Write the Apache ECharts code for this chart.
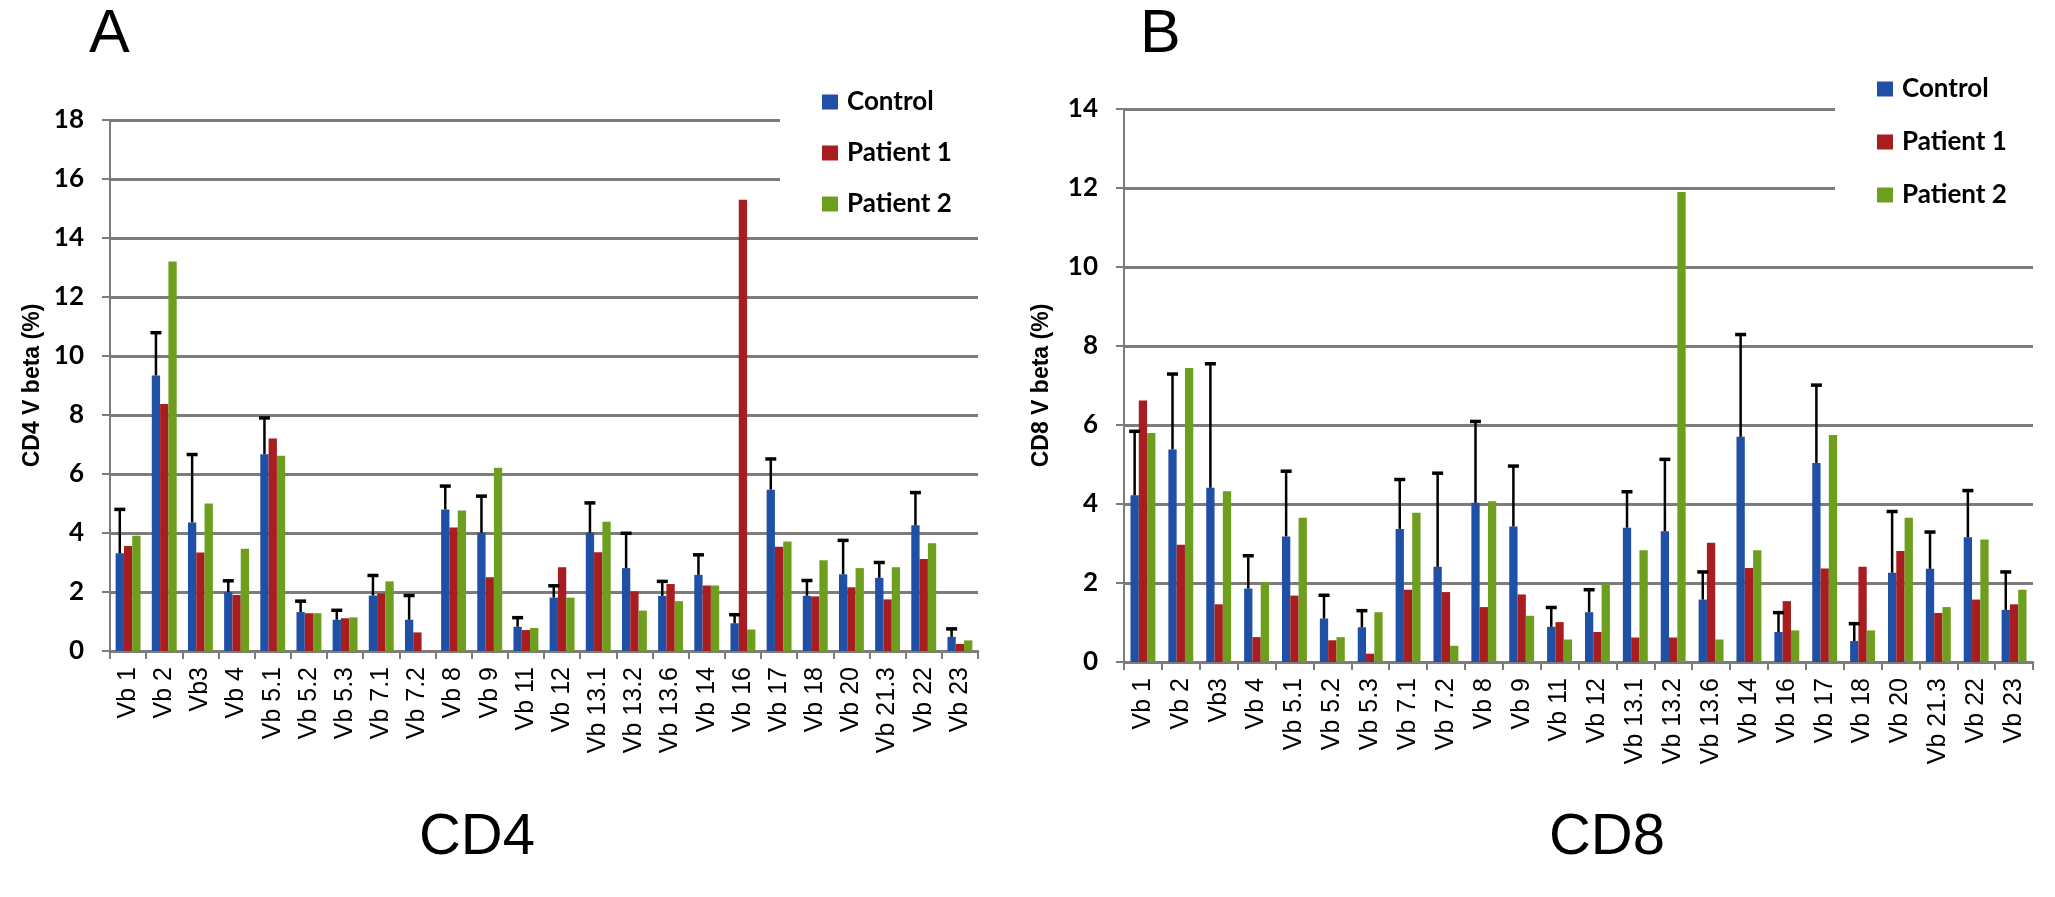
<!DOCTYPE html>
<html>
<head>
<meta charset="utf-8">
<script src="https://cdn.jsdelivr.net/npm/echarts@6/dist/echarts.min.js"></script>
<style>
html,body{margin:0;padding:0;background:#fff;}
#chart{width:2055px;height:897px;}
</style>
</head>
<body>
<div id="chart"></div>
<script>
var categories = ['Vb 1','Vb 2','Vb3','Vb 4','Vb 5.1','Vb 5.2','Vb 5.3','Vb 7.1','Vb 7.2','Vb 8','Vb 9','Vb 11','Vb 12','Vb 13.1','Vb 13.2','Vb 13.6','Vb 14','Vb 16','Vb 17','Vb 18','Vb 20','Vb 21.3','Vb 22','Vb 23'];
var seriesNames = ['Control','Patient 1','Patient 2'];

var cd4Control  = [3.31, 9.34, 4.36, 1.99, 6.67, 1.32, 1.06, 1.88, 1.06, 4.80, 4.01, 0.82, 1.81, 4.01, 2.81, 1.87, 2.58, 0.94, 5.47, 1.87, 2.60, 2.48, 4.26, 0.48];
var cd4Patient1 = [3.56, 8.37, 3.34, 1.90, 7.20, 1.28, 1.11, 1.95, 0.63, 4.19, 2.50, 0.71, 2.84, 3.35, 2.02, 2.27, 2.22, 15.3, 3.53, 1.85, 2.16, 1.75, 3.12, 0.24];
var cd4Patient2 = [3.91, 13.2, 5.00, 3.47, 6.62, 1.28, 1.14, 2.36, 0, 4.76, 6.21, 0.78, 1.81, 4.38, 1.37, 1.69, 2.22, 0.73, 3.71, 3.08, 2.81, 2.84, 3.65, 0.36];
var cd4ControlUpper = [4.80, 10.79, 6.66, 2.38, 7.90, 1.69, 1.38, 2.56, 1.88, 5.59, 5.25, 1.13, 2.21, 5.02, 3.99, 2.36, 3.26, 1.23, 6.51, 2.39, 3.75, 3.00, 5.37, 0.75];

var cd8Control  = [4.22, 5.38, 4.41, 1.86, 3.18, 1.10, 0.88, 3.37, 2.41, 4.03, 3.43, 0.89, 1.26, 3.40, 3.31, 1.58, 5.70, 0.76, 5.04, 0.53, 2.26, 2.36, 3.16, 1.32];
var cd8Patient1 = [6.62, 2.97, 1.46, 0.63, 1.68, 0.55, 0.21, 1.83, 1.77, 1.39, 1.71, 1.01, 0.76, 0.62, 0.62, 3.02, 2.38, 1.54, 2.37, 2.41, 2.81, 1.24, 1.58, 1.46];
var cd8Patient2 = [5.80, 7.44, 4.32, 2.02, 3.65, 0.63, 1.26, 3.78, 0.41, 4.07, 1.17, 0.57, 1.98, 2.83, 11.9, 0.57, 2.83, 0.80, 5.75, 0.80, 3.65, 1.39, 3.10, 1.83];
var cd8ControlUpper = [5.84, 7.29, 7.55, 2.69, 4.83, 1.69, 1.30, 4.62, 4.78, 6.09, 4.96, 1.38, 1.83, 4.31, 5.13, 2.28, 8.29, 1.25, 7.01, 0.97, 3.81, 3.29, 4.34, 2.28];

var cd4Ticks = {min: 0, max: 18, interval: 2};
var cd8Ticks = {min: 0, max: 14, interval: 2};

var colors = ['#1f50a5', '#a81d1f', '#6e9e1e'];
var BAR_W = 8.3;
var GRID_COLOR = '#7c7c7c';
var labelFont = 'Lato';

function errData(means, uppers) {
  return means.map(function (m, i) { return [i, m, uppers[i]]; });
}

function errRender(params, api) {
  var ci = api.value(0);
  var base = api.coord([ci, api.value(1)]);
  var hi = api.coord([ci, api.value(2)]);
  var x = base[0] - BAR_W;
  return {
    type: 'group',
    children: [
      {type: 'line', shape: {x1: x, y1: base[1], x2: x, y2: hi[1]}, style: {stroke: '#000', lineWidth: 2.5}},
      {type: 'line', shape: {x1: x - 5.5, y1: hi[1], x2: x + 5.5, y2: hi[1]}, style: {stroke: '#000', lineWidth: 3.5}}
    ]
  };
}

function xAxisCfg(gi) {
  return {
    type: 'category', gridIndex: gi, data: categories,
    axisLine: {show: true, lineStyle: {color: GRID_COLOR, width: 2.5}},
    axisTick: {show: true, length: 8, lineStyle: {color: GRID_COLOR, width: 2}},
    axisLabel: {interval: 0, rotate: 90, margin: 16, color: '#000', fontSize: 25, fontFamily: 'Liberation Sans'}
  };
}

function yAxisCfg(gi, ticks, name, gap) {
  return {
    type: 'value', gridIndex: gi, min: ticks.min, max: ticks.max, interval: ticks.interval,
    name: name, nameLocation: 'middle', nameRotate: 90, nameGap: gap,
    nameTextStyle: {color: '#000', fontSize: 23, fontWeight: 'bold', fontFamily: 'Liberation Sans'},
    axisLine: {show: true, lineStyle: {color: GRID_COLOR, width: 2}},
    axisTick: {show: true, length: 8, lineStyle: {color: GRID_COLOR, width: 2}},
    axisLabel: {margin: 26, color: '#000', fontSize: 26, fontWeight: 'bold', fontFamily: labelFont},
    splitLine: {show: true, lineStyle: {color: GRID_COLOR, width: 2.8}}
  };
}

function barSeries(gi, names, datas) {
  return names.map(function (n, k) {
    return {
      name: n, type: 'bar', xAxisIndex: gi, yAxisIndex: gi, data: datas[k],
      barWidth: BAR_W, barGap: '0%', itemStyle: {color: colors[k]}, z: 2
    };
  });
}

function legendCfg(left, top, gap) {
  return {
    data: seriesNames, orient: 'vertical', left: left, top: top,
    icon: 'rect', itemWidth: 16, itemHeight: 15, itemGap: gap,
    backgroundColor: '#fff', padding: [10, 35, 10, 42],
    textStyle: {color: '#000', fontSize: 26, lineHeight: 26, fontFamily: labelFont, fontWeight: 'bold', padding: [0, 0, 0, 4]},
    selectedMode: false
  };
}

var series = []
  .concat(barSeries(0, seriesNames, [cd4Control, cd4Patient1, cd4Patient2]))
  .concat([{type: 'custom', name: 'Control SD', xAxisIndex: 0, yAxisIndex: 0, renderItem: errRender, data: errData(cd4Control, cd4ControlUpper), z: 5, silent: true}])
  .concat(barSeries(1, seriesNames, [cd8Control, cd8Patient1, cd8Patient2]))
  .concat([{type: 'custom', name: 'Control SD', xAxisIndex: 1, yAxisIndex: 1, renderItem: errRender, data: errData(cd8Control, cd8ControlUpper), z: 5, silent: true}]);

var option = {
  backgroundColor: '#fff',
  animation: false,
  grid: [
    {left: 110, top: 120, width: 868, height: 531},
    {left: 1124, top: 109, width: 909, height: 553}
  ],
  xAxis: [xAxisCfg(0), xAxisCfg(1)],
  yAxis: [yAxisCfg(0, cd4Ticks, 'CD4 V beta (%)', 66), yAxisCfg(1, cd8Ticks, 'CD8 V beta (%)', 71)],
  legend: [legendCfg(780, 79, 25), legendCfg(1835, 66, 27)],
  graphic: [
    {type: 'text', left: 89, top: 5, style: {text: 'A', fontSize: 61, fontFamily: 'Liberation Sans', fill: '#000'}},
    {type: 'text', left: 1140, top: 5, style: {text: 'B', fontSize: 61, fontFamily: 'Liberation Sans', fill: '#000'}},
    {type: 'text', x: 477, y: 838, style: {text: 'CD4', fontSize: 58, fontFamily: 'Liberation Sans', fill: '#000', align: 'center', verticalAlign: 'middle'}},
    {type: 'text', x: 1607, y: 838, style: {text: 'CD8', fontSize: 58, fontFamily: 'Liberation Sans', fill: '#000', align: 'center', verticalAlign: 'middle'}}
  ],
  series: series
};

var chart = echarts.init(document.getElementById('chart'), null, {renderer: 'canvas'});
chart.setOption(option);
</script>
</body>
</html>
